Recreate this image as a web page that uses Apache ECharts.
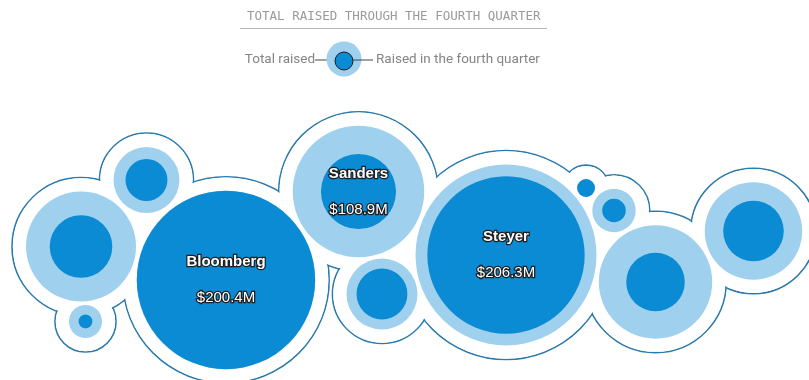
<!DOCTYPE html>
<html>
<head>
<meta charset="utf-8">
<script src="https://cdn.jsdelivr.net/npm/echarts@6/dist/echarts.min.js"></script>
<style>
  html, body { margin: 0; padding: 0; background: #fff; }
  #chart { width: 809px; height: 380px; }
</style>
</head>
<body>
<div id="chart"></div>
<script>
// Fundraising by candidate, in millions of dollars
const candidates = ['Buttigieg', 'Klobuchar', 'Bennet', 'Bloomberg', 'Sanders', 'Yang', 'Steyer', 'Patrick', 'Gabbard', 'Warren', 'Biden'];
const totalRaised = [76.2, 27.4, 6.9, 200.4, 108.9, 31.8, 206.3, 2.0, 11.9, 81.0, 59.8];
const fourthQuarter = [24.7, 11.1, 1.2, 200.4, 35.5, 16.3, 156.0, 2.0, 3.5, 21.6, 23.1];

// Packed-bubble layout centres, in radius units (radius = sqrt of $M)
const layoutX = [12.86, 23.25, 13.57, 35.87, 56.90, 60.63, 80.32, 93.02, 97.46, 104.05, 119.60];
const layoutY = [39.13, 28.57, 51.03, 44.44, 30.40, 46.67, 40.48, 29.84, 33.41, 44.76, 36.67];

const titleText = 'TOTAL RAISED THROUGH THE FOURTH QUARTER';
const legendTotal = 'Total raised';
const legendQuarter = 'Raised in the fourth quarter';

const PX_PER_UNIT = 6.3;      // screen scale of the layout space
const HALO = 2.22;             // gap between bubble and cluster outline, layout units
const DARK = '#0a8bd3';
const LIGHT = '#9fd1ee';
const OUTLINE = '#2a7aad';

const W = 809, H = 380;
const rows = candidates.map((name, i) => [layoutX[i], layoutY[i], totalRaised[i], fourthQuarter[i], name]);

function radiusPx(api, v) {
  return api.size([Math.sqrt(v), 0])[0];
}

function layer(z, build) {
  return {
    type: 'custom',
    coordinateSystem: 'cartesian2d',
    data: rows,
    z: z,
    silent: true,
    animation: false,
    renderItem: function (params, api) {
      const c = api.coord([api.value(0), api.value(1)]);
      return build(c, api);
    }
  };
}

const chart = echarts.init(document.getElementById('chart'), null, { renderer: 'canvas' });

chart.setOption({
  backgroundColor: '#fff',
  animation: false,
  grid: { left: 0, top: 0, width: W, height: H, containLabel: false },
  xAxis: { type: 'value', min: 0, max: W / PX_PER_UNIT, show: false },
  yAxis: { type: 'value', min: 0, max: H / PX_PER_UNIT, inverse: true, show: false },
  series: [
    // cluster outline: stroked halos, interiors then covered in white
    layer(1, function (c, api) {
      const r = radiusPx(api, api.value(2)) + api.size([HALO, 0])[0];
      return { type: 'circle', shape: { cx: c[0], cy: c[1], r: r },
        style: { fill: null, stroke: OUTLINE, lineWidth: 1.6 } };
    }),
    layer(2, function (c, api) {
      const r = radiusPx(api, api.value(2)) + api.size([HALO, 0])[0] - 0.8;
      return { type: 'circle', shape: { cx: c[0], cy: c[1], r: r },
        style: { fill: '#fff', stroke: null } };
    }),
    // total raised
    layer(3, function (c, api) {
      return { type: 'circle', shape: { cx: c[0], cy: c[1], r: radiusPx(api, api.value(2)) },
        style: { fill: LIGHT } };
    }),
    // raised in the fourth quarter, with labels on the largest totals
    layer(4, function (c, api) {
      const total = api.value(2);
      const children = [{ type: 'circle', shape: { cx: c[0], cy: c[1], r: radiusPx(api, api.value(3)) },
        style: { fill: DARK } }];
      if (total > 100) {
        const textBase = { fill: '#fff', stroke: '#1d1d1d', lineWidth: 2.5,
          align: 'center', verticalAlign: 'middle', fontFamily: 'Liberation Sans, Arial, sans-serif' };
        children.push({ type: 'text', z2: 10, style: Object.assign({}, textBase, {
          x: c[0], y: c[1] - 18, text: api.value(4), fontSize: 15, fontWeight: 'bold' }) });
        children.push({ type: 'text', z2: 10, style: Object.assign({}, textBase, {
          x: c[0], y: c[1] + 18, text: '$' + total.toFixed(1) + 'M', fontSize: 15 }) });
      }
      return { type: 'group', children: children };
    })
  ],
  graphic: [
    { type: 'text', x: 247, y: 17, z: 10,
      style: { text: titleText, fill: '#9a9a9a', fontSize: 12.5, verticalAlign: 'middle',
        fontFamily: 'DejaVu Sans Mono, Liberation Mono, monospace' } },
    { type: 'line', z: 10, shape: { x1: 240, y1: 28.5, x2: 547, y2: 28.5 },
      style: { stroke: '#b5b5b5', lineWidth: 1 } },
    { type: 'text', z: 10, x: 315, y: 60,
      style: { text: legendTotal, fill: '#858585', fontSize: 13.5, fontFamily: 'Roboto, sans-serif',
        align: 'right', verticalAlign: 'middle' } },
    { type: 'line', z: 10, shape: { x1: 315, y1: 60, x2: 328, y2: 60 },
      style: { stroke: '#444', lineWidth: 1 } },
    { type: 'circle', z: 10, shape: { cx: 344, cy: 59, r: 17.5 }, style: { fill: LIGHT } },
    { type: 'circle', z: 11, shape: { cx: 344, cy: 61, r: 9 },
      style: { fill: DARK, stroke: '#1a1a1a', lineWidth: 1 } },
    { type: 'line', z: 11, shape: { x1: 353, y1: 60, x2: 373, y2: 60 },
      style: { stroke: '#444', lineWidth: 1 } },
    { type: 'text', z: 10, x: 376, y: 60,
      style: { text: legendQuarter, fill: '#858585', fontSize: 13.5, fontFamily: 'Roboto, sans-serif',
        align: 'left', verticalAlign: 'middle' } }
  ]
});
</script>
</body>
</html>
